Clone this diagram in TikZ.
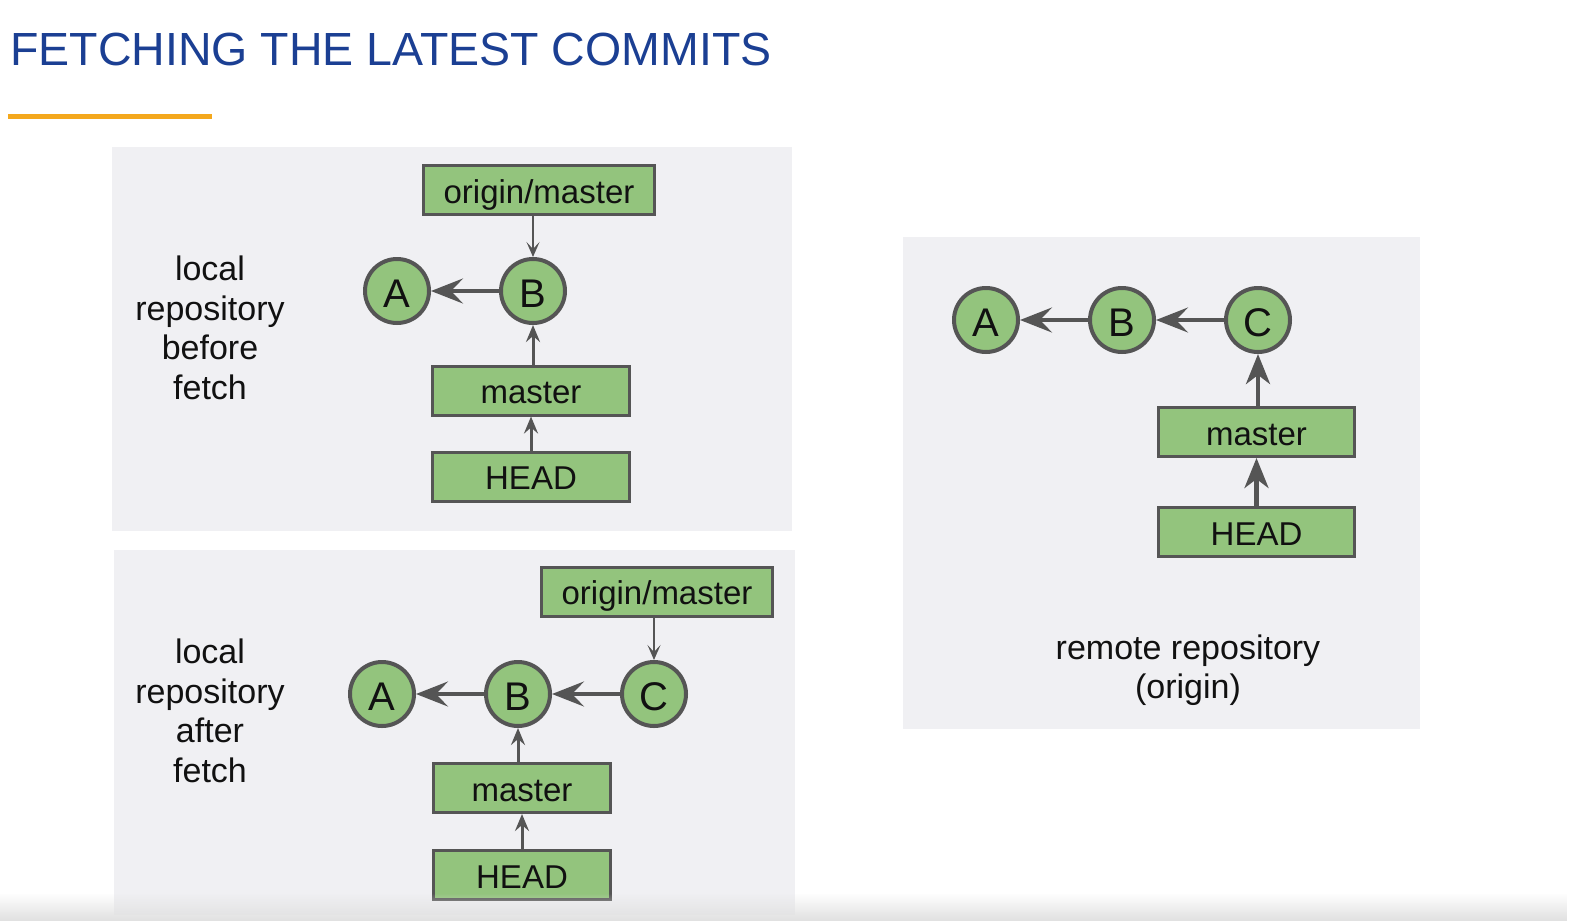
\documentclass[tikz,border=0pt]{standalone}
\usepackage{fontspec}
\setmainfont{Liberation Sans}
\usetikzlibrary{arrows.meta,fadings}

\definecolor{titleblue}{HTML}{1B3F93}
\definecolor{ruleorange}{HTML}{F4A81D}
\definecolor{panelgray}{HTML}{F0F0F3}
\definecolor{commitgreen}{HTML}{93C47D}
\definecolor{edgegray}{HTML}{555555}
\definecolor{inkblack}{HTML}{111111}

\tikzfading[name=fadeup, top color=transparent!100, bottom color=transparent!0]

\tikzset{
  titletext/.style={font=\fontsize{46.5}{50}\selectfont, text=titleblue, inner sep=0pt},
  commit/.style={circle, draw=edgegray, fill=commitgreen, line width=4pt,
    minimum size=64pt, inner sep=0pt, text=inkblack,
    text height=32pt, text depth=0pt,
    font=\fontsize{40}{42}\selectfont},
  ref/.style={rectangle, draw=edgegray, fill=commitgreen, line width=3pt,
    minimum height=49pt, inner sep=0pt, text=inkblack,
    text height=28pt, text depth=2pt,
    font=\fontsize{33}{36}\selectfont},
  desc/.style={align=center, text=inkblack, inner sep=0pt,
    font=\fontsize{34}{39.5}\selectfont},
  arrL/.style={draw=edgegray, line width=4pt,
    -{Stealth[length=32pt, width=25pt, inset=12pt]}},
  arrM/.style={draw=edgegray, line width=4.5pt,
    -{Stealth[length=30pt, width=24pt, inset=9pt]}},
  arrS/.style={draw=edgegray, line width=3pt,
    -{Stealth[length=17pt, width=14pt, inset=6pt]}},
  arrT/.style={draw=edgegray, line width=2pt,
    -{Stealth[length=15pt, width=13pt, inset=7pt]}},
}

\begin{document}
\begin{tikzpicture}[x=1pt, y=-1pt]
  \useasboundingbox (0,0) rectangle (1570,921);
  \fill[white] (0,0) rectangle (1570,921);

  % heading and underline
  \node[titletext, anchor=base west] (title) at (10,65) {FETCHING THE LATEST COMMITS};
  \draw[ruleorange, line width=5pt] (8,116) -- (212,116);

  % background panels
  \fill[panelgray] (112,147) rectangle (792,531);
  \fill[panelgray] (114,550) rectangle (795,915);
  \fill[panelgray] (903,237) rectangle (1420,729);

  % local repository before fetch
  \node[desc] (l1) at (210,328) {local\\repository\\before\\fetch};
  \node[commit] (a1) at (397,291) {A};
  \node[commit] (b1) at (533,291) {B};
  \node[ref, minimum width=231pt] (om1) at (539,190) {origin/master};
  \node[ref, minimum width=197pt] (m1) at (531,390.5) {master};
  \node[ref, minimum width=197pt] (h1) at (531,476.5) {HEAD};
  \draw[arrT] (om1.south -| b1) -- (b1);
  \draw[arrL] (b1) -- (a1);
  \draw[arrS] (m1.north -| b1) -- (b1);
  \draw[arrS] (h1) -- (m1);

  % local repository after fetch
  \node[desc] (l2) at (210,711) {local\\repository\\after\\fetch};
  \node[commit] (a2) at (382,694) {A};
  \node[commit] (b2) at (518,694) {B};
  \node[commit] (c2) at (654,694) {C};
  \node[ref, minimum width=231pt] (om2) at (657,591.5) {origin/master};
  \node[ref, minimum width=177pt] (m2) at (522,788) {master};
  \node[ref, minimum width=177pt] (h2) at (522,875) {HEAD};
  \draw[arrT] (om2.south -| c2) -- (c2);
  \draw[arrL] (c2) -- (b2);
  \draw[arrL] (b2) -- (a2);
  \draw[arrS] (m2.north -| b2) -- (b2);
  \draw[arrS] (h2) -- (m2);

  % remote repository
  \node[commit] (a3) at (986,320) {A};
  \node[commit] (b3) at (1122,320) {B};
  \node[commit] (c3) at (1258,320) {C};
  \node[ref, minimum width=196pt] (m3) at (1256.5,432) {master};
  \node[ref, minimum width=196pt] (h3) at (1256.5,532) {HEAD};
  \draw[arrL] (c3) -- (b3);
  \draw[arrL] (b3) -- (a3);
  \draw[arrM] (m3.north -| c3) -- (c3);
  \draw[arrM] (h3) -- (m3);
  \node[desc] (l3) at (1188,670) {remote repository\\(origin)};

  % soft grey band along the lower edge
  \fill[black!12, path fading=fadeup] (0,893) rectangle (1570,921);
\end{tikzpicture}
\end{document}
